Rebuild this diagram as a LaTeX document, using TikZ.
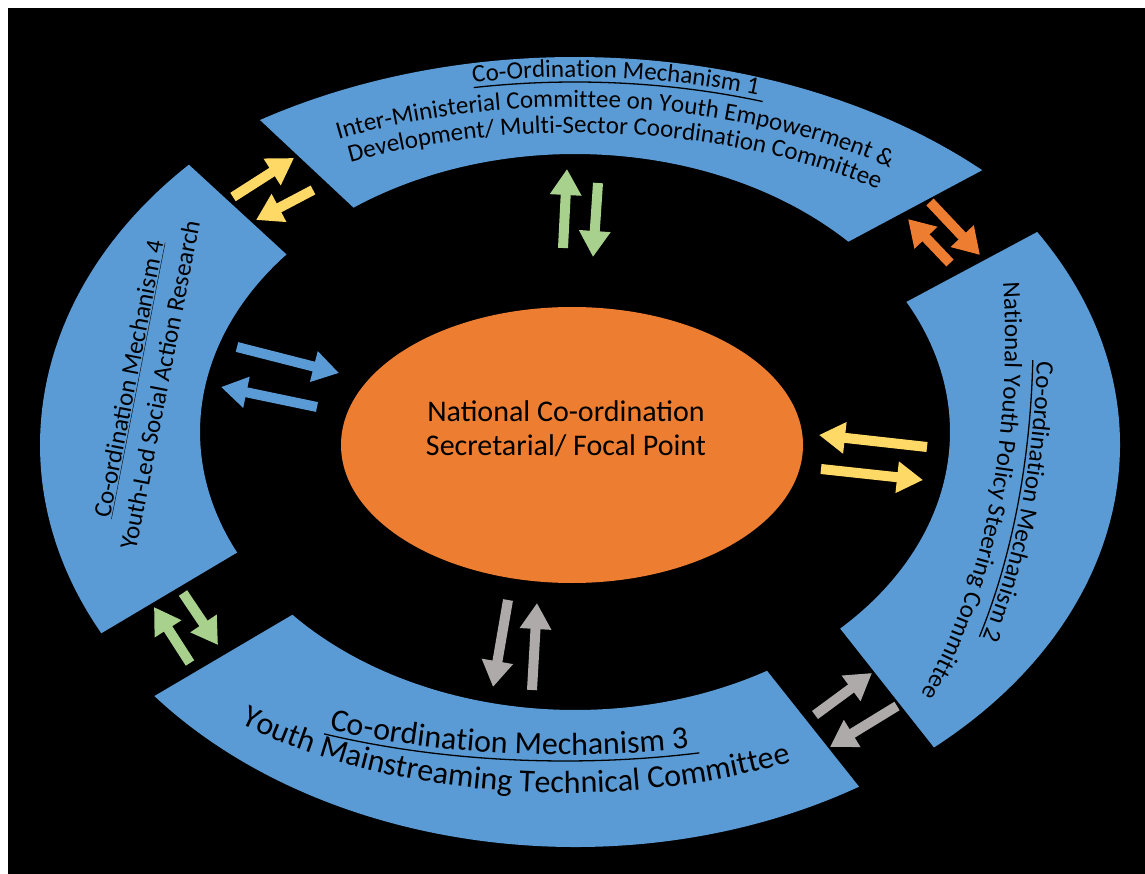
\documentclass[tikz,border=0pt]{standalone}
\usepackage{fontspec}
\setmainfont{Carlito}
\usetikzlibrary{shapes.geometric,arrows.meta,decorations.text}

\definecolor{segblue}{HTML}{5B9BD5}
\definecolor{hubor}{HTML}{ED7D31}
\definecolor{ylw}{HTML}{FFD966}
\definecolor{grn}{HTML}{A9D18E}
\definecolor{gry}{HTML}{AEAAAA}

\newcommand\segfont{\fontsize{25}{32}\selectfont}
\newcommand\bigsegfont{\fontsize{32}{38}\selectfont}

\tikzset{
  seg/.style={fill=segblue},
  arr/.style={line width=10pt,-{Triangle[length=26pt,width=30pt]}},
  alongtext/.style={decorate,decoration={text along path,text color=black,text={#1}}},
  uline/.style={line width=1.3pt},
}

\begin{document}
\begin{tikzpicture}[x=1pt,y=-1pt]
\useasboundingbox (0,0) rectangle (1145,874);
\fill[black] (8,8) rectangle (1145,874);

% ring of four block arcs
\fill[seg] ([shift={(575,450)}]-122.9:580 and 393) arc[start angle=-122.9,end angle=-45.4,x radius=580,y radius=393]
  -- ([shift={(575,432)}]-43.2:375 and 278) arc[start angle=-43.2,end angle=-126.2,x radius=375,y radius=278] -- cycle;
\fill[seg] ([shift={(575,445)}]-32:545 and 402) arc[start angle=-32,end angle=48.8,x radius=545,y radius=402]
  -- ([shift={(575,432)}]45:375 and 278) arc[start angle=45,end angle=-27.9,x radius=375,y radius=278] -- cycle;
\fill[seg] ([shift={(575,450)}]58:536 and 397) arc[start angle=58,end angle=141.7,x radius=536,y radius=397]
  -- ([shift={(575,432)}]138.9:375 and 278) arc[start angle=138.9,end angle=59.2,x radius=375,y radius=278] -- cycle;
\fill[seg] ([shift={(575,445)}]152.3:535 and 405) arc[start angle=152.3,end angle=223.8,x radius=535,y radius=405]
  -- ([shift={(575,432)}]219.7:375 and 278) arc[start angle=219.7,end angle=154.3,x radius=375,y radius=278] -- cycle;

% centre
\node[ellipse,fill=hubor,minimum width=462pt,minimum height=276pt,inner sep=0pt] (hub) at (572,445) {};
\node[font=\fontsize{30}{34}\selectfont,align=center] (hubtext) at (566,429) {National Co-ordination\\Secretarial/ Focal Point};

% mechanism 1
\path[alongtext={|\segfont|Co-Ordination Mechanism 1}] ([shift={(575,379)}]-101.1:530 and 302) arc[start angle=-101.1,end angle=-20,x radius=530,y radius=302];
\draw[uline] ([shift={(575,379)}]-101.1:526 and 297) arc[start angle=-101.1,end angle=-69.1,x radius=526,y radius=297];
\path[alongtext={|\segfont|Inter-Ministerial Committee on Youth Empowerment {\&}}] ([shift={(575,379)}]-118.2:500 and 272) arc[start angle=-118.2,end angle=-10,x radius=500,y radius=272];
\path[alongtext={|\segfont|Development/ Multi-Sector Coordination Committee}] ([shift={(575,379)}]-118.3:474 and 246) arc[start angle=-118.3,end angle=-10,x radius=474,y radius=246];

% mechanism 2
\path[alongtext={|\segfont|Co-ordination Mechanism 2}] ([shift={(785,340)}]2.6:252 and 482) arc[start angle=2.6,end angle=70,x radius=252,y radius=482];
\draw[uline] ([shift={(785,340)}]2.4:248 and 478) arc[start angle=2.4,end angle=38.4,x radius=248,y radius=478];
\path[alongtext={|\segfont|National Youth Policy Steering Committee}] ([shift={(785,340)}]-7.4:220 and 450) arc[start angle=-7.4,end angle=80,x radius=220,y radius=450];

% mechanism 3
\path[alongtext={|\bigsegfont|Co-ordination Mechanism 3}] ([shift={(565,503)}]115.9:540 and 252) arc[start angle=115.9,end angle=20,x radius=540,y radius=252];
\draw[uline] ([shift={(565,503)}]116.5:540 and 258) arc[start angle=116.5,end angle=75.6,x radius=540,y radius=258];
\path[alongtext={|\bigsegfont|Youth Mainstreaming Technical Committee}] ([shift={(565,503)}]130.5:500 and 290) arc[start angle=130.5,end angle=10,x radius=500,y radius=290];

% mechanism 4
\node[font=\segfont,align=center,rotate=79] (m4text) at (144,382) {\underline{Co-ordination Mechanism 4}\\Youth-Led Social Action Research};

% arrow ends
\coordinate (s1) at (233,197);  \coordinate (e1) at (294,158);
\coordinate (s2) at (313,190);  \coordinate (e2) at (256,220);
\coordinate (s3) at (563,248);  \coordinate (e3) at (567,169);
\coordinate (s4) at (598,183);  \coordinate (e4) at (593,257);
\coordinate (s5) at (930,202);  \coordinate (e5) at (980,255);
\coordinate (s6) at (950,263);  \coordinate (e6) at (908,219);
\coordinate (s7) at (237,347);  \coordinate (e7) at (339,373);
\coordinate (s8) at (317,407);  \coordinate (e8) at (221,387);
\coordinate (s9) at (927,447);  \coordinate (e9) at (819,435);
\coordinate (s10) at (821,469); \coordinate (e10) at (923,480);
\coordinate (s11) at (815,715); \coordinate (e11) at (872,673);
\coordinate (s12) at (897,706); \coordinate (e12) at (830,747);
\coordinate (s13) at (508,600); \coordinate (e13) at (493,687);
\coordinate (s14) at (532,690); \coordinate (e14) at (537,603);
\coordinate (s15) at (190,663); \coordinate (e15) at (154,607);
\coordinate (s16) at (183,593); \coordinate (e16) at (218,645);

\foreach \i/\c in {1/ylw,2/ylw,3/grn,4/grn,5/hubor,6/hubor,7/segblue,8/segblue,
                   9/ylw,10/ylw,11/gry,12/gry,13/gry,14/gry,15/grn,16/grn}
  \draw[arr,\c] (s\i) -- (e\i);

\end{tikzpicture}
\end{document}
